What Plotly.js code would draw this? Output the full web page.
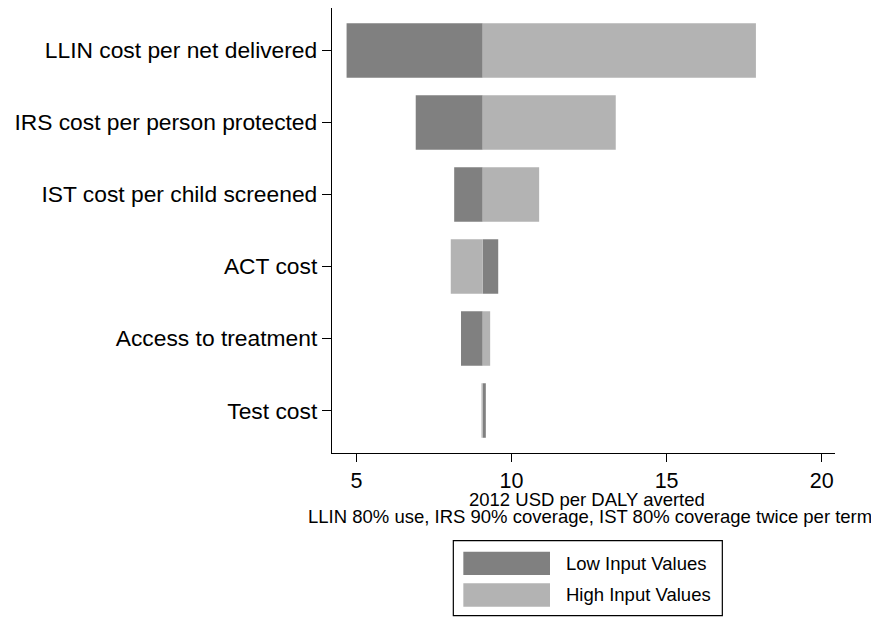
<!DOCTYPE html>
<html>
<head>
<meta charset="utf-8">
<script src="https://cdn.plot.ly/plotly-3.0.1.min.js"></script>
<style>html,body{margin:0;padding:0;background:#fff;}#chart{width:871px;height:617px;}</style>
</head>
<body>
<div id="chart"></div>
<script>
// Tornado chart data: 2012 USD per DALY averted
var categories = ["LLIN cost per net delivered", "IRS cost per person protected", "IST cost per child screened", "ACT cost", "Access to treatment", "Test cost"];
var baseValue = 9.07;
var lowInputValues  = [4.68, 6.91, 8.15, 9.57, 8.37, 9.17];
var highInputValues = [17.88, 13.36, 10.89, 8.04, 9.31, 9.03];
var seriesNames = ["Low Input Values", "High Input Values"];
var seriesColors = ["#808080", "#b3b3b3"];
var xTickValues = [5, 10, 15, 20];
var xTitleLine1 = "2012 USD per DALY averted";
var xTitleLine2 = "LLIN 80% use, IRS 90% coverage, IST 80% coverage twice per term";

var FONT = "Liberation Sans, Arial, Helvetica, sans-serif";

function makeTrace(vals, idx) {
  return {
    type: "bar",
    orientation: "h",
    name: seriesNames[idx],
    y: categories,
    x: vals.map(function (v) { return v - baseValue; }),
    base: categories.map(function () { return baseValue; }),
    width: 0.757,
    marker: { color: seriesColors[idx], line: { width: 0 } },
    showlegend: false,
    hoverinfo: "x+y+name"
  };
}

var traces = [makeTrace(lowInputValues, 0), makeTrace(highInputValues, 1)];

// manual legend (paper coordinates)
var shapes = [
  { type: "rect", xref: "paper", yref: "paper", x0: 0.2412, x1: 0.776, y0: -0.197, y1: -0.3656,
    line: { color: "#000", width: 1.2 }, fillcolor: "rgba(0,0,0,0)" },
  { type: "rect", xref: "paper", yref: "paper", x0: 0.2611, x1: 0.4334, y0: -0.2218, y1: -0.2742,
    line: { width: 0 }, fillcolor: seriesColors[0] },
  { type: "rect", xref: "paper", yref: "paper", x0: 0.2611, x1: 0.4334, y0: -0.2928, y1: -0.3454,
    line: { width: 0 }, fillcolor: seriesColors[1] }
];

var textFont = { family: FONT, size: 18.5, color: "#000" };
var annotations = [
  { xref: "paper", yref: "paper", x: 0.5076, y: -0.1045, text: xTitleLine1, showarrow: false,
    xanchor: "center", yanchor: "middle", font: textFont, borderpad: 0 },
  { xref: "paper", yref: "paper", x: 0.5129, y: -0.1438, text: xTitleLine2, showarrow: false,
    xanchor: "center", yanchor: "middle", font: textFont, borderpad: 0 },
  { xref: "paper", yref: "paper", x: 0.4612, y: -0.2479, text: seriesNames[0], showarrow: false,
    xanchor: "left", yanchor: "middle", font: textFont },
  { xref: "paper", yref: "paper", x: 0.4612, y: -0.3191, text: seriesNames[1], showarrow: false,
    xanchor: "left", yanchor: "middle", font: textFont }
];

var layout = {
  width: 871,
  height: 617,
  paper_bgcolor: "#fff",
  plot_bgcolor: "#fff",
  barmode: "overlay",
  margin: { l: 332, r: 36, t: 8, b: 164, pad: 0 },
  font: { family: FONT, color: "#000" },
  showlegend: false,
  xaxis: {
    range: [4.21, 20.43],
    tickvals: xTickValues,
    ticktext: xTickValues.map(String),
    ticks: "outside",
    ticklen: 8,
    tickwidth: 1.2,
    tickcolor: "#000",
    showline: true,
    linecolor: "#000",
    linewidth: 1.2,
    showgrid: false,
    zeroline: false,
    tickfont: { family: FONT, size: 21.5, color: "#000" },
    automargin: false
  },
  yaxis: {
    type: "category",
    categoryarray: categories,
    categoryorder: "array",
    range: [5.59, -0.59],
    ticks: "outside",
    ticklen: 9,
    tickwidth: 1.2,
    tickcolor: "#000",
    showline: true,
    linecolor: "#000",
    linewidth: 1.2,
    showgrid: false,
    zeroline: false,
    tickfont: { family: FONT, size: 22.8, color: "#000" },
    automargin: false
  },
  shapes: shapes,
  annotations: annotations
};

Plotly.newPlot("chart", traces, layout, { displayModeBar: false, staticPlot: true });
</script>
</body>
</html>
